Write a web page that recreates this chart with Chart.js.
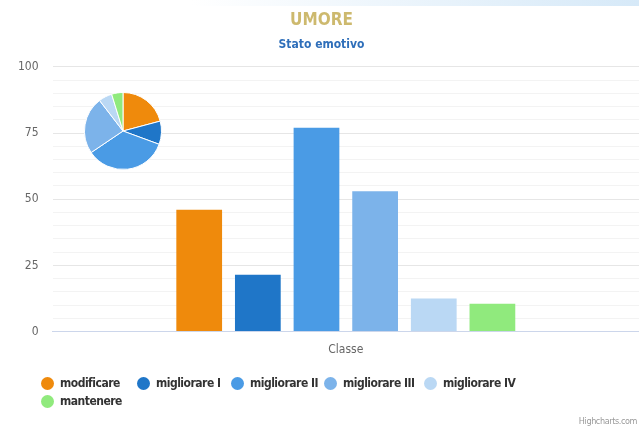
<!DOCTYPE html>
<html lang="it">
<head>
    <meta charset="UTF-8">
    <title>Umore</title>
    <style>
        body { margin: 0; background: #fff; }
        #wrap { position: relative; width: 639px; height: 428px; }
        #topband { position: absolute; left: 0; top: 0; width: 639px; height: 6px;
            background: linear-gradient(to right, #ffffff 30%, #d6e9f8 100%); }
        #pieBox { position: absolute; left: 84px; top: 92px; width: 78px; height: 78px; }
        #legend { position: absolute; left: 41px; top: 374px; width: 590px; display: flex; flex-wrap: wrap;
            font: bold 12px 'DejaVu Sans Condensed', sans-serif; letter-spacing: -0.5px; color: #333; line-height: 18px; }
        #legend .item { display: flex; align-items: center; white-space: nowrap; }
        #legend .item:nth-child(1) { width: 96px; }
        #legend .item:nth-child(2) { width: 94px; }
        #legend .item:nth-child(3) { width: 93px; }
        #legend .item:nth-child(4) { width: 100px; }
        #legend .item:nth-child(5) { width: 180px; }
        #legend .dot { width: 13px; height: 13px; border-radius: 50%; margin-right: 6px; flex: none; }
        #credit { position: absolute; right: 2px; bottom: 2px; font: 9px 'DejaVu Sans Condensed', sans-serif; letter-spacing: -0.4px; color: #999; }
    </style>
</head>
<body>
    <div id="wrap">
        <div id="topband"></div>
        <canvas id="bar" width="639" height="428"></canvas>
        <div id="pieBox"><canvas id="pie"></canvas></div>
        <div id="legend"></div>
        <div id="credit">Highcharts.com</div>
    </div>
    <script src="https://cdn.jsdelivr.net/npm/chart.js@4.4.0/dist/chart.umd.min.js"></script>
    <script>
        const categories = ['Classe']
        const seriesNames = ['modificare', 'migliorare I', 'migliorare II', 'migliorare III', 'migliorare IV', 'mantenere']
        const seriesValues = [46, 21.5, 77, 53, 12.5, 10.5]
        const seriesColors = ['#ef8a0c', '#1f76c8', '#4a9be5', '#7cb3ea', '#bad8f4', '#90ea7d']
        const yTicks = [0, 25, 50, 75, 100]

        const font = "'DejaVu Sans Condensed', sans-serif"
        Chart.defaults.font.family = font

        const barCtx = document.getElementById('bar')
        const barChart = new Chart(barCtx, {
            type: 'bar',
            data: {
                labels: categories,
                datasets: seriesNames.map((name, i) => ({
                    label: name,
                    data: [seriesValues[i]],
                    backgroundColor: seriesColors[i],
                    borderWidth: 0,
                    categoryPercentage: 0.6,
                    barPercentage: 0.78
                }))
            },
            options: {
                responsive: false,
                animation: false,
                layout: { padding: { left: 4, right: 0, top: 0, bottom: 68 } },
                plugins: {
                    title: {
                        display: true,
                        text: 'UMORE',
                        color: '#cdb96e',
                        font: { size: 17, weight: 'bold' },
                        padding: { top: 10, bottom: 7 }
                    },
                    subtitle: {
                        display: true,
                        text: 'Stato emotivo',
                        color: '#2f6fba',
                        font: { size: 12, weight: 'bold' },
                        padding: { top: 0, bottom: 15 }
                    },
                    legend: { display: false },
                    tooltip: { enabled: false }
                },
                scales: {
                    x: {
                        grid: { display: false },
                        border: { color: '#ccd6eb' },
                        ticks: { color: '#666', font: { size: 12 }, padding: 3 }
                    },
                    y: {
                        min: 0,
                        max: 100,
                        border: { display: false },
                        grid: {
                            color: ctx => (ctx.tick && ctx.tick.value % 25 === 0) ? '#e6e6e6' : '#f3f3f3',
                            drawTicks: false
                        },
                        ticks: {
                            stepSize: 5,
                            autoSkip: false,
                            padding: 14,
                            color: '#666',
                            font: { size: 12 },
                            callback: v => yTicks.includes(v) ? v : ''
                        }
                    }
                }
            }
        })

        // legend built from the chart's own legend items
        const legendEl = document.getElementById('legend')
        barChart.options.plugins.legend.labels.generateLabels(barChart).forEach(item => {
            const div = document.createElement('div')
            div.className = 'item'
            const dot = document.createElement('span')
            dot.className = 'dot'
            dot.style.background = item.fillStyle
            div.appendChild(dot)
            div.appendChild(document.createTextNode(item.text))
            legendEl.appendChild(div)
        })

        const pieCtx = document.getElementById('pie')
        const pieChart = new Chart(pieCtx, {
            type: 'pie',
            data: {
                labels: seriesNames,
                datasets: [{
                    data: seriesValues,
                    backgroundColor: seriesColors,
                    borderColor: '#fff',
                    borderWidth: 1
                }]
            },
            options: {
                responsive: true,
                maintainAspectRatio: true,
                animation: false,
                plugins: { legend: { display: false }, tooltip: { enabled: false } }
            }
        })
    </script>
</body>
</html>
